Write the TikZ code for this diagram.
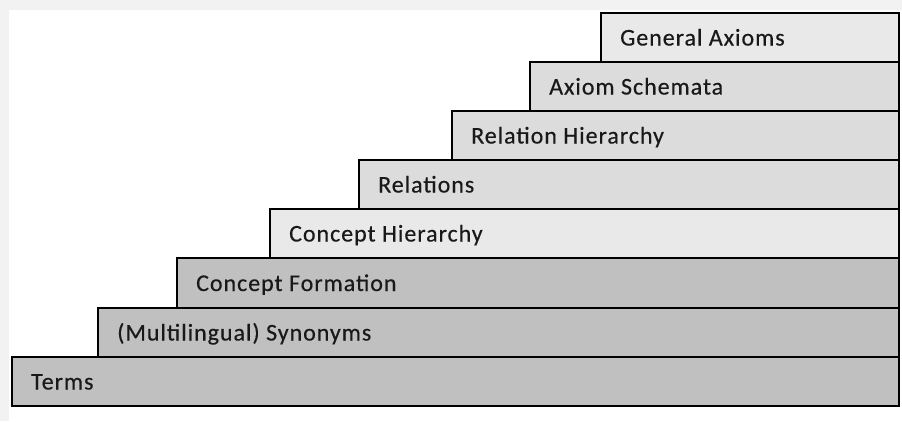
\documentclass[tikz,border=0pt]{standalone}
\usepackage{fontspec}
\setmainfont{Carlito}
\newfontfamily\stepfont[LetterSpace=4, FakeBold=0.4]{Carlito}
\definecolor{stepdark}{HTML}{C0C0C0}
\definecolor{stepmid}{HTML}{DCDCDC}
\definecolor{steplight}{HTML}{E9E9E9}
\definecolor{edgehaze}{HTML}{F2F2F2}
\tikzset{
  stepbox/.style={draw=black, line width=2.6pt},
  steplabel/.style={anchor=base west, inner sep=0pt, font=\stepfont\fontsize{24}{28}\selectfont, text=black!90}
}
\begin{document}
\begin{tikzpicture}[x=1pt,y=-1pt]
  \useasboundingbox (0,0) rectangle (902,421);
  \fill[white] (0,0) rectangle (902,421);
  % faint frame along the top and left edges
  \fill[edgehaze] (0,0) rectangle (902,10);
  \fill[edgehaze] (0,0) rectangle (9,421);
  % the steps, from the bottom up: left edge, top, bottom, fill, text
  \foreach \l/\t/\b/\c/\txt/\nm in {
      12/357/406/stepdark/Terms/terms,
      98/308/357/stepdark/(Multilingual) Synonyms/syn,
      177/258/308/stepdark/Concept Formation/cform,
      270/209/258/steplight/Concept Hierarchy/chier,
      359/160/209/stepmid/Relations/rel,
      452/111/160/stepmid/Relation Hierarchy/rhier,
      530/62/111/stepmid/Axiom Schemata/ax,
      601/13/62/steplight/General Axioms/gax} {
    \draw[stepbox, fill=\c] (\l,\t) rectangle (899,\b);
    \node[steplabel] (\nm) at ({\l+19},{(\t+\b)/2+8}) {\txt};
  }
\end{tikzpicture}
\end{document}
